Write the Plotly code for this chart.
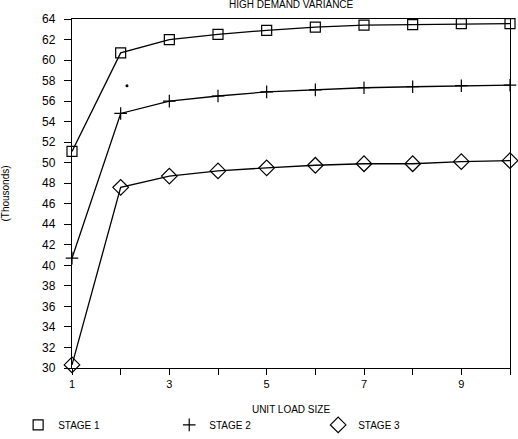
import plotly.graph_objects as go

unit_load = [1, 2, 3, 4, 5, 6, 7, 8, 9, 10]
stage1 = [51.1, 60.7, 62.0, 62.5, 62.9, 63.2, 63.4, 63.45, 63.55, 63.55]
stage2 = [40.7, 54.8, 56.0, 56.5, 56.9, 57.1, 57.3, 57.4, 57.5, 57.55]
stage3 = [30.3, 47.6, 48.7, 49.2, 49.5, 49.75, 49.9, 49.9, 50.1, 50.2]
stray_x = [2.13]
stray_y = [57.5]
x_ticks = [1, 3, 5, 7, 9]
y_ticks = list(range(30, 65, 2))

FONT = "Liberation Sans"
fig = go.Figure()
specs = [
    ("STAGE 1", stage1, "square-open", 10, "legend", -0.123),
    ("STAGE 2", stage2, "cross-thin-open", 9, "legend2", 0.222),
    ("STAGE 3", stage3, "diamond-open", 12, "legend3", 0.562),
]
for name, ys, sym, sz, lg, lx in specs:
    fig.add_trace(go.Scatter(
        x=unit_load, y=ys, mode="lines+markers", showlegend=False,
        line=dict(color="black", width=1.3),
        marker=dict(symbol=sym, size=sz, color="black", line=dict(color="black", width=1.2)),
        cliponaxis=False,
    ))
for name, ys, sym, sz, lg, lx in specs:
    fig.add_trace(go.Scatter(
        x=[None], y=[None], mode="markers", name=name, legend=lg,
        marker=dict(symbol=sym, size=sz, color="black", line=dict(color="black", width=1.2)),
    ))
fig.add_trace(go.Scatter(x=stray_x, y=stray_y, mode="markers", showlegend=False,
                         marker=dict(size=3, color="black")))

legend_common = dict(orientation="h", yanchor="middle", y=-0.163, xanchor="left",
                     itemwidth=30, font=dict(size=10), bgcolor="rgba(0,0,0,0)")
layout_legends = {}
for name, ys, sym, sz, lg, lx in specs:
    layout_legends[lg] = dict(legend_common, x=lx)

fig.update_layout(
    width=518, height=439,
    margin=dict(l=72, r=8, t=19, b=71, autoexpand=False),
    paper_bgcolor="white", plot_bgcolor="white",
    font=dict(family=FONT, size=11, color="black"),
    title=dict(text="HIGH DEMAND VARIANCE", x=0.562, xanchor="center", y=0.997, yanchor="top",
               font=dict(size=10)),
    **layout_legends,
)
fig.update_xaxes(
    range=[1, 10], tickmode="array", tickvals=unit_load,
    ticktext=[str(v) if v in x_ticks else "" for v in unit_load],
    ticks="outside", ticklen=6, tickcolor="black", tickwidth=1,
    showline=True, linecolor="black", linewidth=1.3, mirror=True,
    showgrid=False, zeroline=False, automargin=False,
    tickfont=dict(size=11),
    title=dict(text="UNIT LOAD SIZE", standoff=16, font=dict(size=10)),
)
fig.update_yaxes(
    range=[30, 64], tickmode="array", tickvals=y_ticks,
    ticks="outside", ticklen=7, tickcolor="black", tickwidth=1,
    showline=True, linecolor="black", linewidth=1.3, mirror=True,
    showgrid=False, zeroline=False, automargin=False,
    tickfont=dict(size=12), ticklabelstandoff=6,
    title=dict(text="(Thousonds)", standoff=30, font=dict(size=10)),
)
fig.write_html("out.html")
